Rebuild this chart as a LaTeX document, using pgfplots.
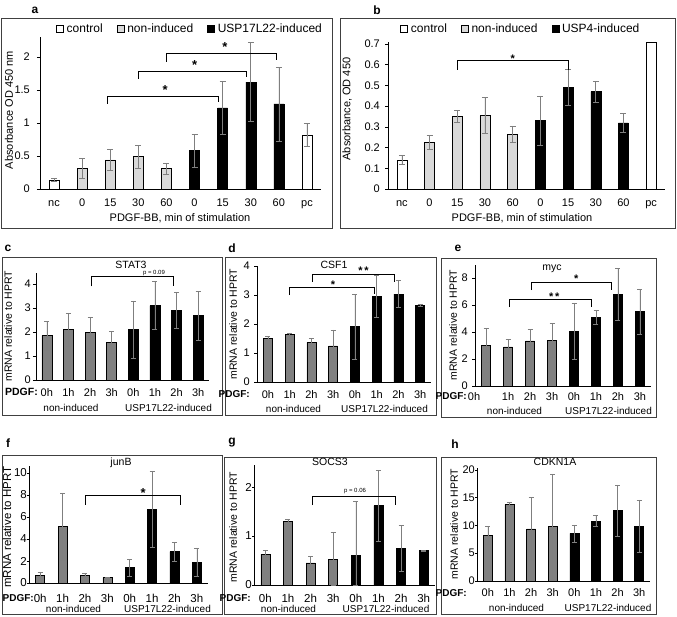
\documentclass[border=0pt]{standalone}
\usepackage{fontspec}
\setmainfont{Liberation Sans}
\usepackage{pgfplots}
\pgfplotsset{compat=1.18}

\newcommand\fs[1]{\fontsize{#1}{#1}\selectfont}
\definecolor{ltgray}{HTML}{D9D9D9}
\definecolor{dkgray}{HTML}{808080}
\definecolor{errgray}{HTML}{7F7F7F}
\definecolor{framec}{HTML}{404040}

\pgfplotsset{
  panel/.style={scale only axis, anchor=south west, clip=false,
    axis x line*=bottom, axis y line*=left,
    axis line style={-, black, line width=0.7pt},
    ymin=0, xmin=-0.5,
    xtick style={draw=none},
    ytick pos=left, tick align=outside, major tick length=3pt,
    ytick style={black, line width=0.6pt},
    ticklabel style={font=\fs{11}},
    xticklabel style={inner sep=0pt, anchor=base},
    yticklabel style={inner sep=0pt, anchor=east}},
  eb/.style={error bars/y dir=both, error bars/y explicit,
    error bars/error bar style={errgray, line width=0.6pt},
    error bars/error mark options={rotate=90, errgray, mark size=#1, line width=0.6pt}},
  mybar/.style 2 args={ybar, bar width=#1, fill=#2, draw=black, line width=0.5pt,
    legend image code/.code={\draw[##1, draw=black, line width=0.5pt] (0pt,-3.5pt) rectangle (7pt,3.5pt);}},
  leg/.style={legend style={draw=none, fill=none, font=\fs{12}, anchor=center,
    legend columns=3, inner sep=0pt,
    /tikz/every odd column/.append style={column sep=1pt},
    /tikz/every even column/.append style={column sep=12pt}}},
}
\tikzset{
  brk/.style={black, line width=0.7pt},
  sig/.style={font=\fs{#1}\bfseries, anchor=base, inner sep=0pt},
  t/.style={inner sep=0pt},
  pd/.style={inner sep=0pt, anchor=east, font=\fs{#1}\bfseries},
}

\begin{document}
\begin{tikzpicture}
\useasboundingbox (0pt,0pt) rectangle (677pt,-616pt);

% panel frames
\begin{scope}[framec, line width=0.8pt]
\draw (1pt,-18pt) rectangle (332pt,-228pt);
\draw (340pt,-18pt) rectangle (675pt,-228pt);
\draw (2pt,-257pt) rectangle (222pt,-415pt);
\draw (225pt,-257pt) rectangle (436pt,-415pt);
\draw (441pt,-258pt) rectangle (656pt,-417pt);
\draw (2pt,-455pt) rectangle (222pt,-614pt);
\draw (224pt,-457pt) rectangle (436pt,-614pt);
\draw (441pt,-457pt) rectangle (656pt,-614pt);
\end{scope}

% panel letters
\foreach \l/\x/\y in {a/35/10, b/377/10, c/8/248, d/232/248, e/458/248, f/8/443, g/232/443, h/455/444}
  \node[font=\fs{12}\bfseries] at (\x pt,-\y pt) {\l};

% ---------------- a ----------------
\begin{axis}[panel, leg, at={(40pt,-189pt)}, width=281pt, height=151.8pt,
  xmax=9.5, ymax=2.3,
  xtick={0,...,9}, xticklabels={nc,0,15,30,60,0,15,30,60,pc},
  ytick={0,0.5,1,1.5,2}, yticklabels={0,0.5,1,1.5,2},
  xticklabel style={yshift=-14pt}, yticklabel style={xshift=-7pt},
  legend style={at={(0.534,1.054)}}]
\addplot[mybar={10pt}{white}, eb=3pt] coordinates {(0,0.14) +- (0,0.02) (9,0.81) += (0,0.18) -= (0,0.17)};
\addlegendentry{control}
\addplot[mybar={10pt}{ltgray}, eb=3pt] coordinates {(1,0.31) +- (0,0.15) (2,0.44) +- (0,0.16) (3,0.49) +- (0,0.17) (4,0.31) +- (0,0.08)};
\addlegendentry{non-induced}
\addplot[mybar={10pt}{black}, eb=3pt] coordinates {(5,0.58) +- (0,0.25) (6,1.23) +- (0,0.40) (7,1.62) +- (0,0.60) (8,1.29) +- (0,0.56)};
\addlegendentry{USP17L22-induced}
\draw[brk] (axis cs:1.9,1.29) |- (axis cs:5.85,1.41) -- (axis cs:5.85,1.32);
\node[sig=13, yshift=1.5pt] at (axis cs:3.95,1.41) {*};
\draw[brk] (axis cs:3,1.67) |- (axis cs:6.86,1.79) -- (axis cs:6.86,1.70);
\node[sig=13, yshift=1.5pt] at (axis cs:5,1.79) {*};
\draw[brk] (axis cs:4,1.93) |- (axis cs:7.9,2.06) -- (axis cs:7.9,1.95);
\node[sig=13, yshift=1.5pt] at (axis cs:6.08,2.06) {*};
\end{axis}
\node[font=\fs{11}, rotate=90] at (9pt,-110pt) {Absorbance OD 450 nm};
\node[font=\fs{11}] at (180pt,-218pt) {PDGF-BB, min of stimulation};

% ---------------- b ----------------
\begin{axis}[panel, leg, at={(388pt,-189pt)}, width=277pt, height=147pt,
  xmax=9.5, ymax=0.71,
  xtick={0,...,9}, xticklabels={nc,0,15,30,60,0,15,30,60,pc},
  ytick={0,0.1,0.2,0.3,0.4,0.5,0.6,0.7}, yticklabels={0,0.1,0.2,0.3,0.4,0.5,0.6,0.7},
  xticklabel style={yshift=-14pt}, yticklabel style={xshift=-5pt},
  legend style={at={(0.48,1.088)}}]
\addplot[mybar={10pt}{white}, eb=3pt] coordinates {(0,0.14) +- (0,0.022)};
\addlegendentry{control}
\addplot[mybar={10pt}{ltgray}, eb=3pt] coordinates {(1,0.225) +- (0,0.035) (2,0.35) +- (0,0.03) (3,0.355) +- (0,0.088) (4,0.265) +- (0,0.04)};
\addlegendentry{non-induced}
\addplot[mybar={10pt}{black}, eb=3pt] coordinates {(5,0.33) +- (0,0.12) (6,0.49) +- (0,0.088) (7,0.47) +- (0,0.05) (8,0.32) +- (0,0.047)};
\addlegendentry{USP4-induced}
\addplot[mybar={10pt}{white}, forget plot] coordinates {(9,0.71)};
\draw[brk] (axis cs:2,0.575) |- (axis cs:6,0.62) -- (axis cs:6,0.575);
\node[sig=11, yshift=-1.4pt] at (axis cs:4,0.62) {*};
\end{axis}
\node[font=\fs{11}, rotate=90] at (347pt,-109pt) {Absorbance, OD 450};
\node[font=\fs{11}] at (522pt,-218pt) {PDGF-BB, min of stimulation};

% ---------------- c ----------------
\begin{axis}[panel, at={(36pt,-380pt)}, width=173pt, height=106.8pt,
  xmax=7.5, ymax=4.45,
  xtick={0,...,7}, xticklabels={0h,1h,2h,3h,0h,1h,2h,3h},
  ytick={0,1,2,3,4}, yticklabels={0,1,2,3,4},
  xticklabel style={yshift=-13pt}, yticklabel style={xshift=-2pt}]
\addplot[mybar={10pt}{dkgray}, eb=2.5pt] coordinates {(0,1.85) +- (0,0.6) (1,2.1) +- (0,0.7) (2,1.97) +- (0,0.63) (3,1.57) +- (0,0.45)};
\addplot[mybar={10pt}{black}, eb=2.5pt] coordinates {(4,2.1) +- (0,1.2) (5,3.1) +- (0,1.0) (6,2.9) +- (0,0.75) (7,2.7) += (0,1.0) -= (0,1.05)};
\draw[brk] (axis cs:2.04,3.9) |- (axis cs:5.85,4.3) -- (axis cs:5.85,3.9);
\end{axis}
\node[t, font=\fs{10.5}] at (131pt,-265pt) {STAT3};
\node[t, font=\fs{6}] at (154pt,-273pt) {p = 0.09};
\node[t, font=\fs{10.5}, rotate=90] at (8pt,-326pt) {mRNA relative to HPRT};
\node[pd=10.5] at (38pt,-392pt) {PDGF:};
\node[t, font=\fs{10}] at (71pt,-408pt) {non-induced};
\node[t, font=\fs{10}] at (168.5pt,-408pt) {USP17L22-induced};

% ---------------- d ----------------
\begin{axis}[panel, at={(257pt,-382pt)}, width=174pt, height=116pt,
  xmax=7.5, ymax=4,
  xtick={0,...,7}, xticklabels={0h,1h,2h,3h,0h,1h,2h,3h},
  ytick={0,1,2,3,4}, yticklabels={0,1,2,3,4},
  xticklabel style={yshift=-13pt}, yticklabel style={xshift=-4pt}]
\addplot[mybar={9pt}{dkgray}, eb=2.5pt] coordinates {(0,1.5) +- (0,0.07) (1,1.65) +- (0,0.04) (2,1.37) +- (0,0.13) (3,1.25) +- (0,0.55)};
\addplot[mybar={9pt}{black}, eb=2.5pt] coordinates {(4,1.92) += (0,1.1) -= (0,1.12) (5,2.95) +- (0,0.72) (6,3.03) +- (0,0.47) (7,2.65) +- (0,0.03)};
\draw[brk] (axis cs:1,3.0) |- (axis cs:4.9,3.28) -- (axis cs:4.9,3.05);
\node[sig=11, yshift=-1.4pt] at (axis cs:3.0,3.28) {*};
\draw[brk] (axis cs:2.03,3.45) |- (axis cs:5.8,3.72) -- (axis cs:5.8,3.45);
\node[sig=11, yshift=-0.4pt] at (axis cs:4.4,3.72) {*\,*};
\end{axis}
\node[t, font=\fs{10.5}] at (334pt,-265pt) {CSF1};
\node[t, font=\fs{10.5}, rotate=90] at (233pt,-324pt) {mRNA relative to HPRT};
\node[pd=10] at (250pt,-394pt) {PDGF:};
\node[t, font=\fs{10}] at (293.5pt,-409pt) {non-induced};
\node[t, font=\fs{10}] at (384.5pt,-409pt) {USP17L22-induced};

% ---------------- e ----------------
\begin{axis}[panel, at={(475pt,-386pt)}, width=176pt, height=121.5pt,
  xmax=7.5, ymax=9,
  xtick={0,...,7}, xticklabels={,1h,2h,3h,0h,1h,2h,3h},
  ytick={0,2,4,6,8}, yticklabels={0,2,4,6,8},
  xticklabel style={yshift=-11pt}, yticklabel style={xshift=-4pt}]
\addplot[mybar={9pt}{dkgray}, eb=2.5pt] coordinates {(0,3.0) +- (0,1.25) (1,2.9) +- (0,0.55) (2,3.35) +- (0,0.85) (3,3.4) +- (0,1.25)};
\addplot[mybar={9pt}{black}, eb=2.5pt] coordinates {(4,4.05) +- (0,2.1) (5,5.1) +- (0,0.5) (6,6.8) +- (0,1.9) (7,5.55) += (0,1.65) -= (0,1.7)};
\draw[brk] (axis cs:1.05,5.85) |- (axis cs:4.8,6.45) -- (axis cs:4.8,5.85);
\node[sig=11, yshift=-1.4pt] at (axis cs:3.1,6.45) {*\,*};
\draw[brk] (axis cs:2.05,7.1) |- (axis cs:5.7,7.7) -- (axis cs:5.7,7.1);
\node[sig=11, yshift=-0.4pt] at (axis cs:4.1,7.7) {*};
\end{axis}
\node[t, font=\fs{11}, anchor=base] at (474pt,-400pt) {0h};
\node[t, font=\fs{10.5}] at (552pt,-269pt) {myc};
\node[t, font=\fs{10.5}, rotate=90] at (453pt,-325pt) {mRNA relative to HPRT};
\node[pd=10] at (467pt,-396pt) {PDGF:};
\node[t, font=\fs{10}] at (514.5pt,-411pt) {non-induced};
\node[t, font=\fs{10}] at (608.5pt,-411pt) {USP17L22-induced};

% ---------------- f ----------------
\begin{axis}[panel, at={(29pt,-583pt)}, width=179pt, height=116.6pt,
  xmax=7.5, ymax=10.6, major tick length=2pt,
  xtick={0,...,7}, xticklabels={0h,1h,2h,3h,0h,1h,2h,3h},
  ytick={0,2,4,6,8,10}, yticklabels={0,2,4,6,8,10},
  ticklabel style={font=\fs{11.5}},
  xticklabel style={yshift=-17pt}, yticklabel style={xshift=0pt}]
\addplot[mybar={9pt}{dkgray}, eb=2.5pt] coordinates {(0,0.7) +- (0,0.28) (1,5.15) += (0,3.05) -= (0,3.1) (2,0.7) +- (0,0.15) (3,0.5) +- (0,0.03)};
\addplot[mybar={9pt}{black}, eb=2.5pt] coordinates {(4,1.4) +- (0,0.75) (5,6.7) +- (0,3.45) (6,2.85) +- (0,0.85) (7,1.9) +- (0,1.3)};
\draw[brk] (axis cs:2,7.1) |- (axis cs:6.25,8.0) -- (axis cs:6.25,7.1);
\node[sig=13, yshift=-2.5pt] at (axis cs:4.6,8.0) {*};
\end{axis}
\node[t, font=\fs{10.5}] at (121pt,-463pt) {junB};
\node[t, font=\fs{11.5}, rotate=90] at (7pt,-527pt) {mRNA relative to HPRT};
\node[pd=10] at (34pt,-598pt) {PDGF:};
\node[t, font=\fs{10}] at (73.5pt,-609pt) {non-induced};
\node[t, font=\fs{10}] at (167.5pt,-609pt) {USP17L22-induced};

% ---------------- g ----------------
\begin{axis}[panel, at={(254pt,-585pt)}, width=181pt, height=120pt,
  xmax=7.5, ymax=2.45, major tick length=2pt,
  xtick={0,...,7}, xticklabels={0h,1h,2h,3h,0h,1h,2h,3h},
  ytick={0,1,2}, yticklabels={0,1,2},
  ticklabel style={font=\fs{11.5}},
  xticklabel style={yshift=-15pt}, yticklabel style={xshift=0pt}]
\addplot[mybar={9pt}{dkgray}, eb=2.5pt] coordinates {(0,0.63) +- (0,0.07) (1,1.3) +- (0,0.04) (2,0.45) +- (0,0.14) (3,0.53) += (0,0.55) -= (0,0.53)};
\addplot[mybar={9pt}{black}, eb=2.5pt] coordinates {(4,0.6) += (0,1.1) -= (0,0.6) (5,1.62) +- (0,0.72) (6,0.75) +- (0,0.46) (7,0.7) +- (0,0.01)};
\draw[brk] (axis cs:2.1,1.63) |- (axis cs:5.75,1.8) -- (axis cs:5.75,1.63);
\end{axis}
\node[t, font=\fs{10.5}] at (330pt,-462pt) {SOCS3};
\node[t, font=\fs{6}] at (355pt,-491pt) {p = 0.06};
\node[t, font=\fs{10.5}, rotate=90] at (233pt,-527pt) {mRNA relative to HPRT};
\node[pd=10] at (251pt,-598pt) {PDGF:};
\node[t, font=\fs{10}] at (288.5pt,-609pt) {non-induced};
\node[t, font=\fs{10}] at (386pt,-609pt) {USP17L22-induced};

% ---------------- h ----------------
\begin{axis}[panel, at={(477pt,-581pt)}, width=173pt, height=112.7pt,
  xmax=7.5, ymax=20.3, major tick length=2pt,
  xtick={0,...,7}, xticklabels={0h,1h,2h,3h,0h,1h,2h,3h},
  ytick={0,5,10,15,20}, yticklabels={0,5,10,15,20},
  xticklabel style={yshift=-13pt}, yticklabel style={xshift=0pt}]
\addplot[mybar={9pt}{dkgray}, eb=2.5pt] coordinates {(0,8.2) +- (0,1.6) (1,13.8) +- (0,0.4) (2,9.4) +- (0,5.7) (3,9.8) +- (0,9.5)};
\addplot[mybar={9pt}{black}, eb=2.5pt] coordinates {(4,8.6) += (0,1.5) -= (0,1.6) (5,10.8) += (0,1.0) -= (0,0.9) (6,12.7) +- (0,4.6) (7,9.9) += (0,4.7) -= (0,4.8)};
\end{axis}
\node[t, font=\fs{10.5}] at (555pt,-462pt) {CDKN1A};
\node[t, font=\fs{10.5}, rotate=90] at (454pt,-524pt) {mRNA relative to HPRT};
\node[pd=10] at (467pt,-593pt) {PDGF:};
\node[t, font=\fs{10}] at (516.5pt,-608pt) {non-induced};
\node[t, font=\fs{10}] at (608pt,-608pt) {USP17L22-induced};

\end{tikzpicture}
\end{document}
